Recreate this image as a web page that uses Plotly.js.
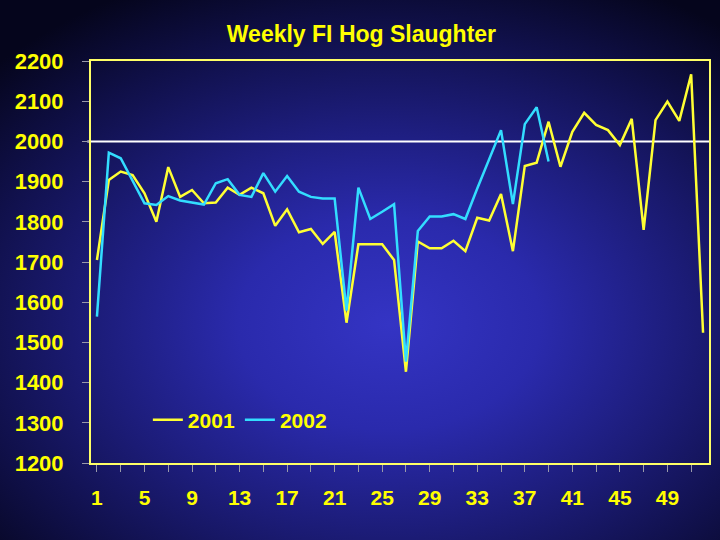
<!DOCTYPE html>
<html>
<head>
<meta charset="utf-8">
<script src="https://cdn.plot.ly/plotly-3.0.1.min.js"></script>
<style>
html,body{margin:0;padding:0;width:720px;height:540px;overflow:hidden;}
body{background:radial-gradient(ellipse 75% 70% at 54% 60%, #3434c4 0%, #2a2aac 28%, #1c1c78 55%, #10104a 78%, #05051c 100%);}
#chart{width:720px;height:540px;}
</style>
</head>
<body>
<div id="chart"></div>
<script>
const weeks = Array.from({length: 52}, (_, i) => i + 1);
const hogs2001 = [1705,1904,1925,1916,1871,1800,1936,1862,1879,1846,1848,1885,1867,1885,1871,1790,1831,1774,
  1782,1745,1775,1549,1744,1744,1744,1705,1427,1751,1734,1734,1753,1727,1810,1803,1869,1727,1939,1947,2049,1937,
  2024,2071,2041,2028,1991,2056,1780,2053,2099,2051,2167,1524];
const weeks2002 = weeks.slice(0, 39);
const hogs2002 = [1564,1972,1958,1900,1846,1842,1864,1853,1848,1843,1896,1906,1867,1862,1921,1875,1914,1875,
  1862,1858,1858,1579,1885,1807,1825,1844,1452,1777,1813,1813,1819,1807,1883,1958,2028,1844,2043,2085,1950];
const tickWeeks = [1,5,9,13,17,21,25,29,33,37,41,45,49];
const refLevel = 2000;

const fontFam = 'Liberation Sans, Arial, sans-serif';
const data = [
  {x: weeks, y: hogs2001, name: '2001', type: 'scatter', mode: 'lines',
   line: {color: '#ffff33', width: 2.5}},
  {x: weeks2002, y: hogs2002, name: '2002', type: 'scatter', mode: 'lines',
   line: {color: '#33ddff', width: 2.5}}
];
const layout = {
  width: 720, height: 540,
  paper_bgcolor: 'rgba(0,0,0,0)', plot_bgcolor: 'rgba(0,0,0,0)',
  margin: {l: 91, r: 11, t: 61, b: 77},
  title: {text: 'Weekly FI Hog Slaughter', x: 0.502, xanchor: 'center', y: 0.937, yanchor: 'middle',
    font: {family: fontFam, size: 23, color: '#ffff00', weight: 'bold'}},
  showlegend: true,
  legend: {orientation: 'h', x: 0.092, xanchor: 'left', y: 0.107, yanchor: 'middle',
    bgcolor: 'rgba(0,0,0,0)', font: {family: fontFam, size: 21, color: '#ffff00', weight: 'bold'},
    itemwidth: 30, tracegroupgap: 0},
  xaxis: {range: [0.5, 52.5], tickvals: tickWeeks, ticktext: tickWeeks.map(String),
    showgrid: false, zeroline: false, showline: true, linecolor: '#ffff66', linewidth: 2, mirror: true,
    ticks: 'outside', ticklen: 7, tickcolor: '#9999aa', tickwidth: 1, ticklabelstandoff: 8,
    minor: {dtick: 2, tick0: 1, ticks: 'outside', ticklen: 7, tickcolor: '#9999aa', showgrid: false},
    tickfont: {family: fontFam, size: 21, color: '#ffff00', weight: 'bold'}},
  yaxis: {range: [1200, 2200], dtick: 100, showgrid: false, zeroline: false,
    showline: true, linecolor: '#ffff66', linewidth: 2, mirror: true,
    ticks: 'outside', ticklen: 7, tickcolor: '#9999aa', tickwidth: 1, ticklabelstandoff: 14,
    tickfont: {family: fontFam, size: 22, color: '#ffff00', weight: 'bold'}},
  shapes: [{type: 'line', xref: 'paper', yref: 'y', x0: -0.006, x1: 1, y0: refLevel, y1: refLevel,
    line: {color: '#ffffff', width: 2}, layer: 'below'}]
};
Plotly.newPlot('chart', data, layout, {staticPlot: true, displayModeBar: false});
</script>
</body>
</html>
